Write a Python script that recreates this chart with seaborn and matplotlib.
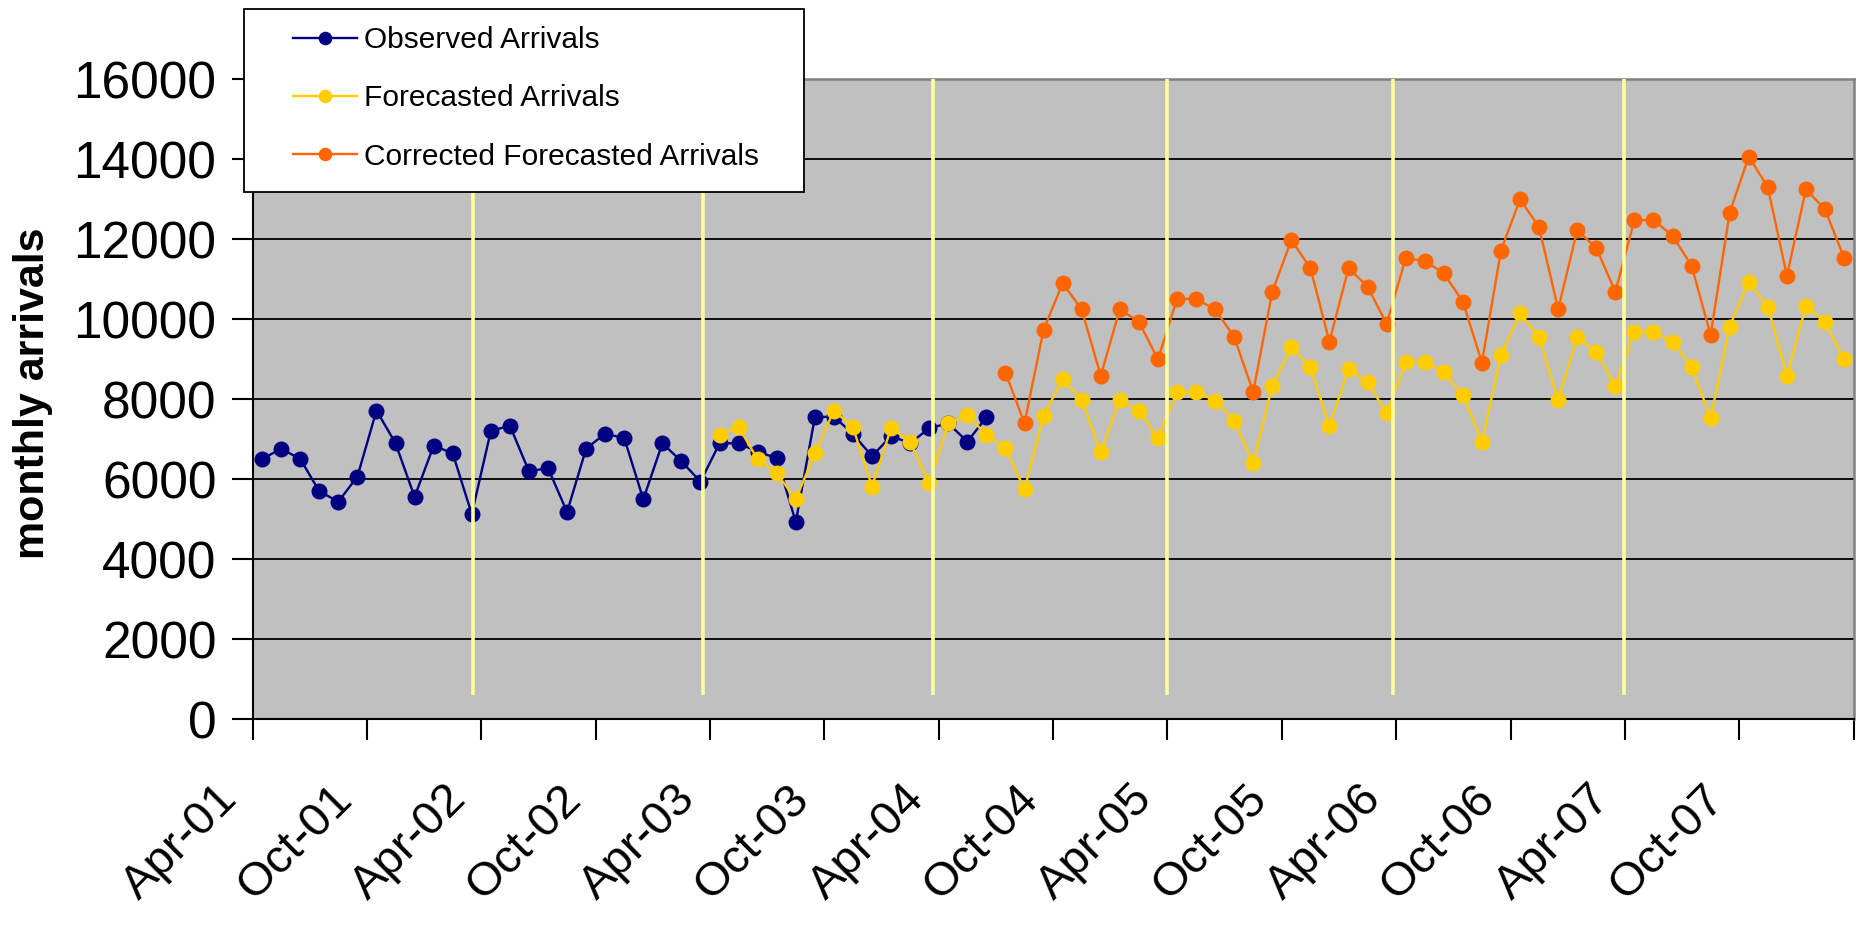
#!/usr/bin/env python3

# plot.py
#
# Observed vs forecasted monthly arrivals, Apr-01 to Mar-08.
import matplotlib
matplotlib.use('Agg')
import matplotlib.pyplot as plt
import matplotlib.patches as patches
import matplotlib.transforms as transforms
import numpy as np
import pandas as pd
import seaborn as sb

# Month index 0 = Apr-01, 83 = Mar-08
OBSERVED_START = 0
OBSERVED = [6510, 6760, 6510, 5700, 5440, 6070, 7720, 6900, 5560, 6840, 6650, 5130,
            7210, 7340, 6200, 6280, 5180, 6770, 7140, 7030, 5500, 6900, 6450, 5940,
            6900, 6900, 6690, 6530, 4930, 7550, 7570, 7130, 6580, 7080, 6900, 7280,
            7400, 6940, 7550]

FORECAST_START = 24
FORECAST = [7110, 7300, 6500, 6150, 5500, 6650, 7720, 7300, 5820, 7280, 6940, 5900,
            7400, 7610, 7110, 6780, 5750, 7590, 8500, 7980, 6690, 7980, 7720, 7030,
            8180, 8180, 7970, 7470, 6400, 8340, 9300, 8800, 7340, 8750, 8430, 7650,
            8930, 8930, 8680, 8100, 6940, 9110, 10150, 9550, 7980, 9550, 9190, 8340,
            9690, 9690, 9440, 8800, 7540, 9820, 10940, 10320, 8590, 10330, 9940, 9000]

CORRECTED_START = 39
CORRECTED = [8670, 7400, 9740, 10900, 10250, 8590, 10250, 9940, 9000,
             10510, 10510, 10250, 9560, 8180, 10690, 11980, 11280, 9440, 11280, 10820, 9880,
             11530, 11460, 11150, 10440, 8920, 11720, 13000, 12300, 10250, 12230, 11780, 10690,
             12480, 12480, 12090, 11340, 9610, 12670, 14070, 13300, 11090, 13250, 12750, 11540]

TICK_LABELS = ['Apr-01', 'Oct-01', 'Apr-02', 'Oct-02', 'Apr-03', 'Oct-03', 'Apr-04',
               'Oct-04', 'Apr-05', 'Oct-05', 'Apr-06', 'Oct-06', 'Apr-07', 'Oct-07', '']

# Year markers (hand drawn in the original), in month-index units
YEAR_LINES = [11.05, 23.12, 35.22, 47.5, 59.36, 71.43]

SERIES = {
  # Label : [start, values, colour]
  'Observed Arrivals': [OBSERVED_START, OBSERVED, '#000080'],
  'Forecasted Arrivals': [FORECAST_START, FORECAST, '#FFCC00'],
  'Corrected Forecasted Arrivals': [CORRECTED_START, CORRECTED, '#FF6600'],
}


def main():
  plt.rcParams['font.family'] = ['Liberation Sans', 'DejaVu Sans']

  figure = plt.figure(figsize=(18.61, 9.31), dpi=100)
  axis = figure.add_axes([0.13573, 0.22739, 0.86029, 0.68743])
  axis.set_facecolor('#C0C0C0')

  # Draw each series
  for label, (start, values, color) in SERIES.items():
    months = np.arange(start, start + len(values))
    sb.lineplot(x=months, y=values, ax=axis, color=color, marker='o', markersize=11.5,
                markeredgewidth=0, linewidth=1.7, label=label, zorder=3)

  # Yearly divider lines
  axis.vlines(YEAR_LINES, 600, 16000, colors='#FFFF99', linewidth=2.6, zorder=4)

  # Axes formatting
  axis.set_xlim(-0.5, 83.5)
  axis.set_ylim(0, 16000)
  axis.set_yticks(np.arange(0, 16001, 2000))
  axis.set_xticks(np.arange(-0.5, 84, 6))
  axis.set_xticklabels(TICK_LABELS, rotation=45, ha='right', va='top', fontsize=34)
  axis.tick_params(axis='x', length=15, width=1.5, pad=26, direction='out')
  axis.tick_params(axis='y', length=15, width=1.5, pad=11, direction='out', labelsize=37)
  offset = transforms.ScaledTranslation(-0.06, 0, figure.dpi_scale_trans)
  for item in axis.get_xticklabels():
    item.set_transform(item.get_transform() + offset)

  axis.yaxis.grid(True, color='black', linewidth=1.3)
  axis.xaxis.grid(False)
  axis.set_axisbelow(True)
  for side in ['left', 'bottom']:
    axis.spines[side].set_color('black')
    axis.spines[side].set_linewidth(1.5)
  for side in ['top', 'right']:
    axis.spines[side].set_color('#808080')
    axis.spines[side].set_linewidth(1.8)

  axis.set_xlabel('')
  axis.set_ylabel('monthly arrivals', fontsize=31, fontweight='bold')
  axis.yaxis.set_label_coords(-0.1244, 0.51)

  # Legend, boxed in the top left corner
  handles, labels = axis.get_legend_handles_labels()
  axis.get_legend().remove()
  box = patches.Rectangle((244.4 / 1861, 1 - 191.7 / 931), 559.8 / 1861, 182.4 / 931,
                          transform=figure.transFigure, facecolor='white', edgecolor='black',
                          linewidth=1.3, zorder=4)
  figure.patches.append(box)
  figure.legend(handles, labels, loc='upper left', bbox_to_anchor=(293 / 1861, 1 - 26 / 931),
                frameon=False, fontsize=21.5, borderpad=0, borderaxespad=0, handlelength=2.15,
                handletextpad=0.22, labelspacing=1.02, markerscale=0.85)

  plt.savefig('out.png', dpi=100)
  plt.close()


if __name__ == '__main__':
  main()
